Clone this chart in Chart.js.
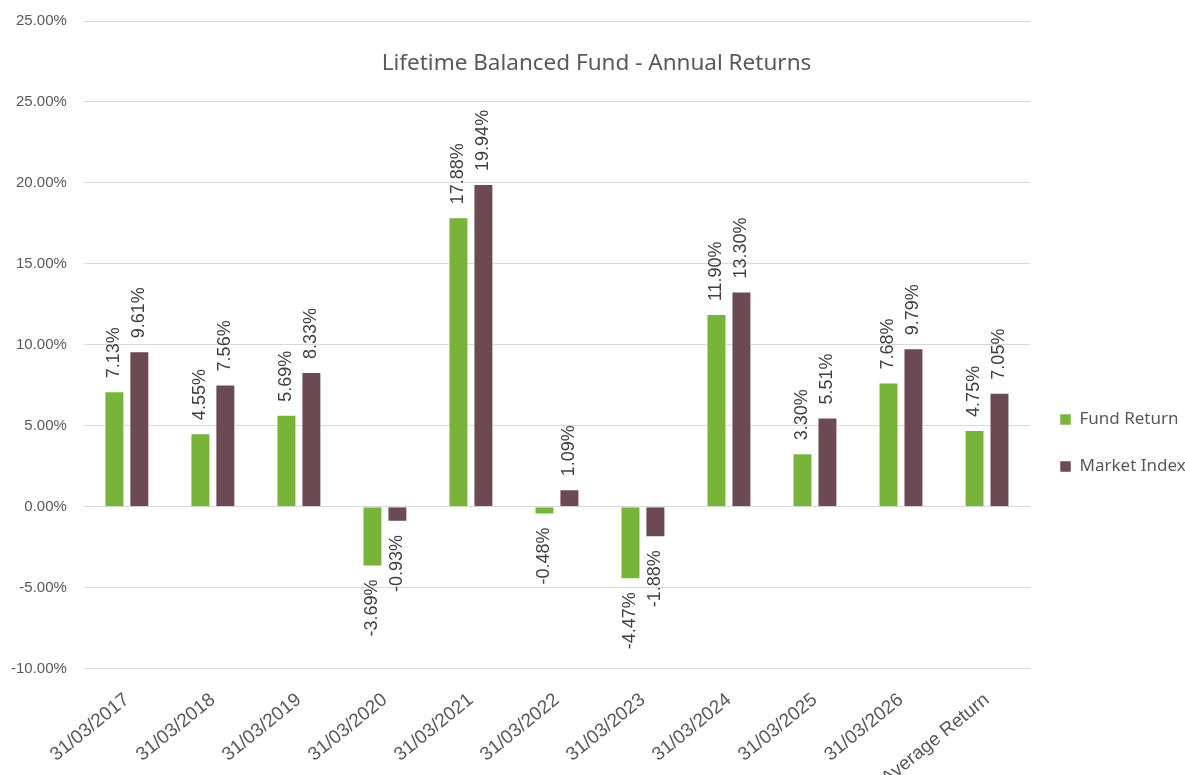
<!DOCTYPE html>
<html>
<head>
<meta charset="utf-8">
<script src="https://cdn.jsdelivr.net/npm/chart.js@4"></script>
<style>
  html, body { margin: 0; padding: 0; background: #ffffff; overflow: hidden; }
  #wrap { width: 1185px; height: 775px; }
</style>
</head>
<body>
<div id="wrap"><canvas id="returnsChart" width="1185" height="775"></canvas></div>
<script>
// Kategorien und Werte (in %)
const categories = ['31/03/2017', '31/03/2018', '31/03/2019', '31/03/2020', '31/03/2021',
    '31/03/2022', '31/03/2023', '31/03/2024', '31/03/2025', '31/03/2026', 'Average Return'];
const fundReturn = [7.13, 4.55, 5.69, -3.69, 17.88, -0.48, -4.47, 11.90, 3.30, 7.68, 4.75];
const marketIndex = [9.61, 7.56, 8.33, -0.93, 19.94, 1.09, -1.88, 13.30, 5.51, 9.79, 7.05];
// Achsenbeschriftung wie im Original (oberste Linie ebenfalls "25.00%")
const yTickLabels = ['-10.00%', '-5.00%', '0.00%', '5.00%', '10.00%', '15.00%', '20.00%', '25.00%', '25.00%'];

const chartTitle = 'Lifetime Balanced Fund - Annual Returns';

// Werte-Beschriftung, gedreht um 90°
const valueLabels = {
    id: 'valueLabels',
    afterDatasetsDraw(chart) {
        const ctx = chart.ctx;
        ctx.save();
        ctx.font = '18px "Liberation Sans", Arial, sans-serif';
        ctx.fillStyle = '#404040';
        ctx.textBaseline = 'middle';
        chart.data.datasets.forEach((ds, i) => {
            const meta = chart.getDatasetMeta(i);
            meta.data.forEach((bar, j) => {
                const v = ds.data[j];
                const txt = v.toFixed(2) + '%';
                ctx.save();
                ctx.translate(bar.x, bar.y);
                ctx.rotate(-Math.PI / 2);
                if (v >= 0) {
                    ctx.textAlign = 'left';
                    ctx.fillText(txt, 13, 0);
                } else {
                    ctx.textAlign = 'right';
                    ctx.fillText(txt, -13, 0);
                }
                ctx.restore();
            });
        });
        ctx.restore();
    }
};

new Chart(document.getElementById('returnsChart'), {
    type: 'bar',
    data: {
        labels: categories,
        datasets: [{
            label: 'Fund Return',
            data: fundReturn,
            backgroundColor: '#79b43a',
            borderColor: 'rgba(255,255,255,0.5)',
            borderWidth: 1
        }, {
            label: 'Market Index',
            data: marketIndex,
            backgroundColor: '#6c4a54',
            borderColor: 'rgba(255,255,255,0.5)',
            borderWidth: 1
        }]
    },
    options: {
        responsive: false,
        animation: false,
        datasets: {
            bar: { categoryPercentage: 0.58, barPercentage: 0.8 }
        },
        layout: {
            padding: { left: 8, right: 0, top: 0, bottom: -27 }
        },
        plugins: {
            title: {
                display: true,
                text: chartTitle,
                color: '#595959',
                font: { family: '"Noto Sans", sans-serif', size: 22.5, weight: 'normal' },
                padding: { top: 50, bottom: -56 }
            },
            legend: {
                position: 'right',
                maxWidth: 155,
                title: { display: true, text: '', font: { size: 10 }, padding: { top: 72, bottom: 0 } },
                labels: {
                    boxWidth: 11,
                    boxHeight: 11,
                    padding: 30,
                    color: '#595959',
                    font: { family: '"Noto Sans", sans-serif', size: 17 }
                }
            },
            tooltip: { enabled: false }
        },
        scales: {
            x: {
                grid: { display: false },
                border: { display: false },
                ticks: {
                    color: '#595959',
                    padding: 12,
                    font: { family: '"Liberation Sans", Arial, sans-serif', size: 19 },
                    minRotation: 39,
                    maxRotation: 39,
                    autoSkip: false
                }
            },
            y: {
                min: -10,
                max: 30,
                border: { display: false },
                grid: { color: '#d9d9d9', lineWidth: 1, drawTicks: true, tickLength: 14, tickColor: 'rgba(0,0,0,0)' },
                ticks: {
                    stepSize: 5,
                    padding: 3,
                    color: '#595959',
                    font: { family: '"Liberation Sans", Arial, sans-serif', size: 15 },
                    callback: (val, idx) => yTickLabels[idx]
                }
            }
        }
    },
    plugins: [valueLabels]
});
</script>
</body>
</html>
